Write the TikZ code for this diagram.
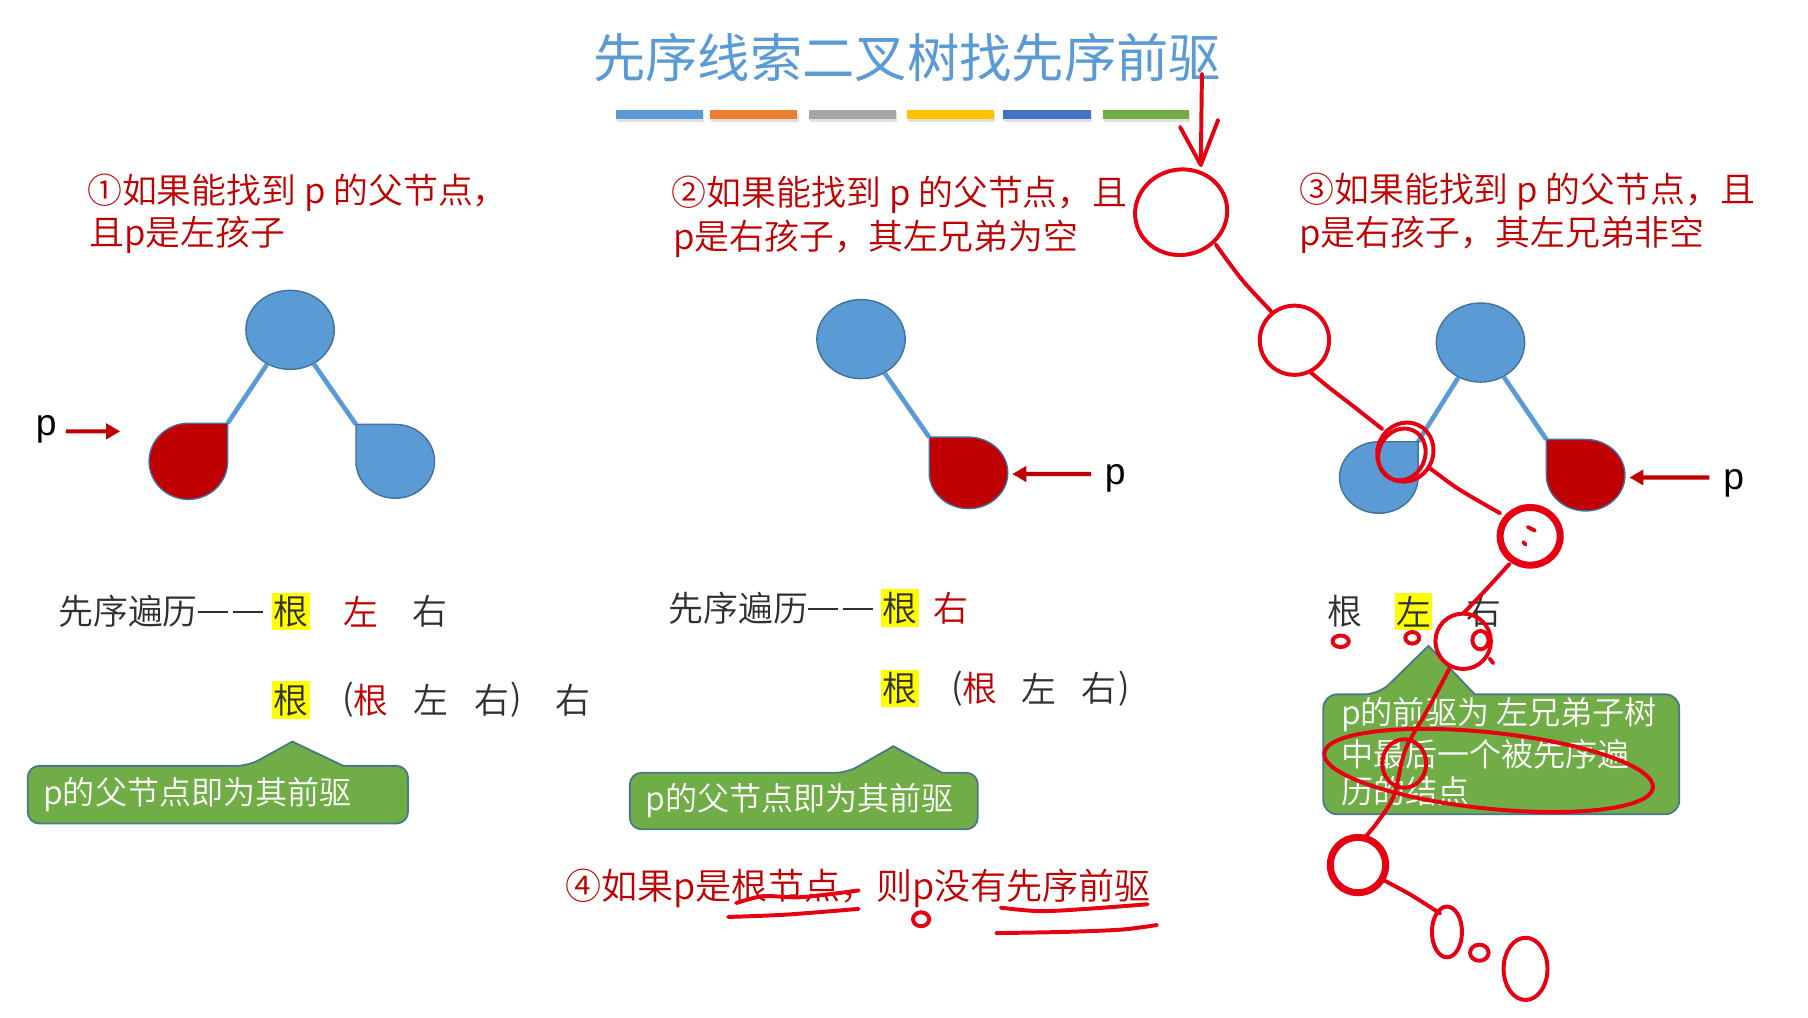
\documentclass[tikz,border=0pt]{standalone}
\usepackage{fontspec}
\IfFontExistsTF{Noto Sans CJK SC DemiLight}
  {\setmainfont{Noto Sans CJK SC DemiLight}}
  {\IfFontExistsTF{Noto Sans CJK SC Light}
     {\setmainfont{Noto Sans CJK SC Light}}
     {\setmainfont{Noto Sans CJK SC}}}
\newfontfamily\titlef{Noto Sans CJK SC}
\newfontfamily\latinf{Liberation Sans}
\usetikzlibrary{arrows.meta,shapes.geometric}
\definecolor{nb}{HTML}{5B9BD5}
\definecolor{nbd}{HTML}{41719C}
\definecolor{dr}{HTML}{C00000}
\definecolor{tb}{HTML}{5B9BD5}
\definecolor{cg}{HTML}{70AD47}
\definecolor{cgd}{HTML}{4A7A88}
\definecolor{scr}{HTML}{E60012}
\definecolor{hl}{HTML}{FFFF00}
\definecolor{txt}{HTML}{303030}
\definecolor{b1}{HTML}{5B9BD5}
\definecolor{b2}{HTML}{ED7D31}
\definecolor{b3}{HTML}{A5A5A5}
\definecolor{b4}{HTML}{FFC000}
\definecolor{b5}{HTML}{4472C4}
\definecolor{b6}{HTML}{70AD47}
\newcommand\dashpair{\rule[0.33em]{13pt}{0.75pt}\hspace{2pt}\rule[0.33em]{13pt}{0.75pt}}
\begin{document}
\begin{tikzpicture}[x=0.5pt,y=-0.5pt,
  rootnode/.style={ellipse,fill=nb,draw=nbd,line width=0.6pt,minimum width=38pt,minimum height=34pt,inner sep=0pt},
  bleaf/.style={fill=nb,draw=nbd,line width=0.6pt},
  rleaf/.style={fill=dr,draw=nbd,line width=0.6pt},
  edgeln/.style={draw=nb,line width=2pt},
  redtxt/.style={text=dr,font=\fontsize{15}{18}\selectfont,anchor=west,inner sep=0pt},
  bodytxt/.style={text=txt,font=\fontsize{15}{18}\selectfont,inner sep=0pt},
  redch/.style={text=dr,font=\fontsize{15}{18}\selectfont,inner sep=0pt},
  hlch/.style={text=txt,fill=hl,font=\fontsize{15}{18}\selectfont,inner xsep=0.6pt,inner ysep=1.2pt},
  callout/.style={fill=cg,draw=cgd,line width=0.8pt},
  calltxt/.style={text=white,font=\fontsize{13.8}{16.5}\selectfont,anchor=west,inner sep=0pt},
  plabel/.style={text=black,font=\latinf\fontsize{16}{18}\selectfont,inner sep=0pt},
  parrow/.style={draw=dr,line width=1.8pt,-{Triangle[length=6pt,width=6.5pt]}},
  scrib/.style={draw=scr,line width=1.7pt,line cap=round,line join=round},
  scribb/.style={draw=scr,line width=3pt,line cap=round,line join=round}
]
\useasboundingbox (0,0) rectangle (1555,875.5);
\fill[white] (0,0) rectangle (1555,875.5);
\begin{scope}[xscale=0.994,yscale=0.992]
% title
\node[text=tb,font=\titlef\fontsize{22.5}{26}\selectfont,inner sep=0pt] (title) at (785,50) {先序线索二叉树找先序前驱};
% colour bars
\foreach \xa/\xb/\c in {533/608/b1,614/690/b2,700/775/b3,785/860/b4,868/944/b5,954/1029/b6}{
  \fill[black!12] (\xa+1,98) rectangle (\xb+1,106);
  \fill[\c] (\xa,95) rectangle (\xb,103);
}

% headings
\node[redtxt] (h1a) at (75,167) {①如果能找到 p 的父节点，};
\node[redtxt] (h1b) at (77,204) {且p是左孩子};
\node[redtxt] (h2a) at (581,169) {②如果能找到 p 的父节点，且};
\node[redtxt] (h2b) at (582,207) {p是右孩子，其左兄弟为空};
\node[redtxt] (h3a) at (1124,166) {③如果能找到 p 的父节点，且};
\node[redtxt] (h3b) at (1124,204) {p是右孩子，其左兄弟非空};

% ---------- tree 1
\node[rootnode] (r1) at (251,286) {};
\coordinate (c1l) at (197,367);
\coordinate (c1r) at (308,368);
\draw[edgeln] (r1) -- (c1l);
\draw[edgeln] (r1) -- (c1r);
\draw[rleaf] (163,367) -- (197,367) -- (197,400) arc[start angle=0,end angle=270,x radius=34,y radius=33] -- cycle;
\draw[bleaf] (308,400) -- (308,368) -- (342,368) arc[start angle=270,end angle=540,x radius=34,y radius=32] -- cycle;
\node[plabel] (p1) at (40,372) {p};
\coordinate (p1e) at (104,374);
\draw[parrow] (57,374) -- (p1e);

% ---------- tree 2
\node[rootnode] (r2) at (745,294) {};
\coordinate (c2r) at (804,379);
\draw[edgeln] (r2) -- (c2r);
\draw[rleaf] (804,410) -- (804,379) -- (838,379) arc[start angle=270,end angle=540,x radius=34,y radius=31] -- cycle;
\node[plabel] (p2) at (965,415) {p};
\coordinate (p2e) at (876,411);
\draw[parrow] (944,411) -- (p2e);

% ---------- tree 3
\node[rootnode] (r3) at (1281,297) {};
\coordinate (c3l) at (1227,383);
\coordinate (c3r) at (1338,381);
\draw[edgeln] (r3) -- (c3l);
\draw[edgeln] (r3) -- (c3r);
\draw[bleaf] (1193,383) -- (1227,383) -- (1227,414) arc[start angle=0,end angle=270,x radius=34,y radius=31] -- cycle;
\draw[rleaf] (1338,412) -- (1338,381) -- (1372,381) arc[start angle=270,end angle=540,x radius=34,y radius=31] -- cycle;
\node[plabel] (p3) at (1500,419) {p};
\coordinate (p3e) at (1410,414);
\draw[parrow] (1479,414) -- (p3e);

% ---------- traversal text tree 1
\node[bodytxt,anchor=west] (t1a) at (50,530) {先序遍历\dashpair};
\node[hlch] (t1b) at (252,530) {根};
\node[redch] (t1c) at (312,530) {左};
\node[bodytxt] (t1d) at (372,530) {右};
\node[hlch] (u1a) at (252,607) {根};
\node[bodytxt] (u1b) at (301,607) {(};
\node[redch] (u1c) at (321,607) {根};
\node[bodytxt] (u1d) at (373,607) {左};
\node[bodytxt] (u1e) at (426,607) {右};
\node[bodytxt] (u1f) at (447,607) {)};
\node[bodytxt] (u1g) at (496,607) {右};

% ---------- traversal text tree 2
\node[bodytxt,anchor=west] (t2a) at (578,527) {先序遍历\dashpair};
\node[hlch] (t2b) at (779,527) {根};
\node[redch] (t2c) at (823,527) {右};
\node[hlch] (u2a) at (779,597) {根};
\node[bodytxt] (u2b) at (828,597) {(};
\node[redch] (u2c) at (848,597) {根};
\node[bodytxt] (u2d) at (899,597) {左};
\node[bodytxt] (u2e) at (951,597) {右};
\node[bodytxt] (u2f) at (973,597) {)};

% ---------- traversal text tree 3
\node[bodytxt] (t3a) at (1164,530) {根};
\node[hlch] (t3b) at (1223,530) {左};
\node[bodytxt] (t3c) at (1284,530) {右};

% ---------- callouts
\draw[callout] (24,689) [rounded corners=5pt] -- (24,664) -- (215,664) [sharp corners] -- (253,643) -- (297,664) [rounded corners=5pt] -- (353,664) -- (353,714) -- (24,714) -- cycle;
\node[calltxt] (k1) at (37,689) {p的父节点即为其前驱};
\draw[callout] (545,694) [rounded corners=5pt] -- (545,670) -- (733,670) [sharp corners] -- (773,647) -- (815,670) [rounded corners=5pt] -- (846,670) -- (846,719) -- (545,719) -- cycle;
\node[calltxt] (k2) at (558,694) {p的父节点即为其前驱};
\draw[callout] (1145,650) [rounded corners=6pt] -- (1145,602) -- (1193,602) [sharp corners] -- (1236,560) -- (1276,602) [rounded corners=6pt] -- (1453,602) -- (1453,706) -- (1145,706) -- cycle;
\node[calltxt] (k3a) at (1160,620) {p的前驱为 左兄弟子树};
\node[calltxt] (k3b) at (1160,654) {中最后一个被先序遍};
\node[calltxt] (k3c) at (1160,686) {历的结点};

% ---------- case 4
\node[redtxt,font=\fontsize{15.5}{18}\selectfont] (h4) at (489,770) {④如果p是根节点，则p没有先序前驱};

% ---------- handwritten annotations
\draw[scrib] (1040,64) -- (1039,143);
\draw[scrib] (1021,110) -- (1039,143) -- (1054,104);
\draw[scrib,rotate around={12:(1022,184)}] (1022,184) ellipse[x radius=40,y radius=37];
\draw[scrib] plot[smooth] coordinates {(1052,212) (1075,243) (1100,270)};
\draw[scrib] (1120,295) ellipse[x radius=30,y radius=30];
\draw[scrib] plot[smooth] coordinates {(1133,322) (1150,336) (1172,353) (1196,372)};
\draw[scrib,rotate around={-25:(1216,392)}] (1216,392) ellipse[x radius=24,y radius=26];
\draw[scrib,rotate around={-25:(1213,394)}] (1213,394) ellipse[x radius=20,y radius=23];
\draw[scrib] plot[smooth] coordinates {(1236,405) (1262,424) (1298,445)};
\draw[scribb] (1324,465) ellipse[x radius=26,y radius=25];
\draw[scrib] (1322,457) -- (1328,460);
\draw[scrib] (1318,470) -- (1320,472);
\draw[scrib] plot[smooth] coordinates {(1306,489) (1286,511) (1266,532)};
\draw[scrib] (1266,556) ellipse[x radius=24,y radius=24];
\draw[scrib] (1281,555) ellipse[x radius=7,y radius=8];
\draw[scrib] (1289,571) -- (1292,575);
\draw[scrib] (1160,556) ellipse[x radius=7,y radius=5];
\draw[scrib] (1222,553) ellipse[x radius=6,y radius=5];
\draw[scrib] plot[smooth] coordinates {(1254,580) (1236,614) (1216,650) (1206,690) (1191,714) (1179,728)};
\draw[scrib] (1215,662) ellipse[x radius=19,y radius=21];
\draw[scrib,rotate around={-6:(1288,668)}] (1288,668) ellipse[x radius=143,y radius=33];
\draw[scribb] (1175,750) ellipse[x radius=24,y radius=24];
\draw[scrib] plot[smooth] coordinates {(1197,763) (1221,776) (1246,792)};
\draw[scrib] (1252,808) ellipse[x radius=13,y radius=22];
\draw[scrib] (1280,826) ellipse[x radius=8,y radius=7];
\draw[scrib] (1320,840) ellipse[x radius=19,y radius=27];
% underlines
\draw[scrib] plot[smooth] coordinates {(637,783) (660,777) (690,778) (720,775) (743,772)};
\draw[scrib] plot[smooth] coordinates {(630,795) (680,793) (743,788)};
\draw[scrib] (797,797) ellipse[x radius=7,y radius=6];
\draw[scrib] plot[smooth] coordinates {(866,787) (900,790) (940,788) (993,784)};
\draw[scrib] plot[smooth] coordinates {(862,809) (920,808) (970,806) (1001,802)};
\end{scope}
\end{tikzpicture}
\end{document}
